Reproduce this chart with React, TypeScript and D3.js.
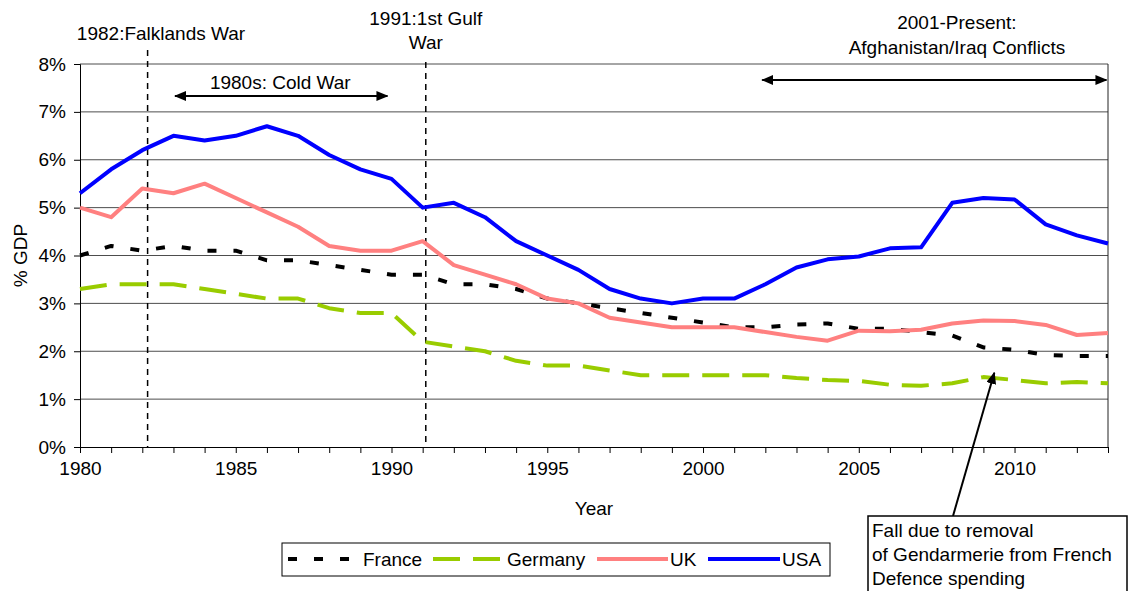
import { useEffect, useRef } from "react";
import * as d3 from "d3";

// Years on the x axis
const years = [
  1980, 1981, 1982, 1983, 1984, 1985, 1986, 1987, 1988, 1989, 1990, 1991,
  1992, 1993, 1994, 1995, 1996, 1997, 1998, 1999, 2000, 2001, 2002, 2003,
  2004, 2005, 2006, 2007, 2008, 2009, 2010, 2011, 2012, 2013,
];

// Military spending, % of GDP
const france = [
  4.0, 4.2, 4.1, 4.2, 4.1, 4.1, 3.9, 3.9, 3.8, 3.7, 3.6, 3.6, 3.4, 3.4, 3.3,
  3.1, 3.0, 2.9, 2.8, 2.7, 2.6, 2.5, 2.5, 2.56, 2.58, 2.47, 2.47, 2.4, 2.33,
  2.08, 2.03, 1.92, 1.9, 1.9,
];
const germany = [
  3.3, 3.4, 3.4, 3.4, 3.3, 3.2, 3.1, 3.1, 2.9, 2.8, 2.8, 2.2, 2.1, 2.0, 1.8,
  1.7, 1.7, 1.6, 1.5, 1.5, 1.5, 1.5, 1.5, 1.44, 1.4, 1.38, 1.3, 1.28, 1.33,
  1.46, 1.4, 1.33, 1.36, 1.33,
];
const uk = [
  5.0, 4.8, 5.4, 5.3, 5.5, 5.2, 4.9, 4.6, 4.2, 4.1, 4.1, 4.3, 3.8, 3.6, 3.4,
  3.1, 3.0, 2.7, 2.6, 2.5, 2.5, 2.5, 2.4, 2.3, 2.22, 2.43, 2.42, 2.45, 2.58,
  2.64, 2.63, 2.55, 2.34, 2.38,
];
const usa = [
  5.3, 5.8, 6.2, 6.5, 6.4, 6.5, 6.7, 6.5, 6.1, 5.8, 5.6, 5.0, 5.1, 4.8, 4.3,
  4.0, 3.7, 3.3, 3.1, 3.0, 3.1, 3.1, 3.4, 3.75, 3.92, 3.98, 4.15, 4.17, 5.1,
  5.2, 5.17, 4.65, 4.42, 4.25,
];

const yTicks = [0, 1, 2, 3, 4, 5, 6, 7, 8];
const xTickLabels = [1980, 1985, 1990, 1995, 2000, 2005, 2010];

const seriesList = [
  { name: "France", values: france, color: "#000000", dash: "9,17" },
  { name: "Germany", values: germany, color: "#99CC00", dash: "27,13" },
  { name: "UK", values: uk, color: "#FF8080", dash: null },
  { name: "USA", values: usa, color: "#0000FF", dash: null },
];

const FONT = "'Liberation Sans', Arial, sans-serif";
const FS = 19;

const App: React.FC = () => {
  const svgRef = useRef<SVGSVGElement>(null);

  useEffect(() => {
    const left = 80, right = 1108, top = 64, bottom = 447;

    const svg = d3.select(svgRef.current);
    svg.selectAll("*").remove();

    const x = d3.scaleLinear().domain([1980, 2013]).range([left, right]);
    const y = d3.scaleLinear().domain([0, 8]).range([bottom, top]);

    const label = (sel: any) =>
      sel.attr("font-family", FONT).attr("font-size", FS).attr("fill", "#000");

    // arrow head
    const defs = svg.append("defs");
    defs.append("marker")
      .attr("id", "ah")
      .attr("viewBox", "0 0 12 10")
      .attr("refX", 11).attr("refY", 5)
      .attr("markerWidth", 12).attr("markerHeight", 10)
      .attr("markerUnits", "userSpaceOnUse")
      .attr("orient", "auto-start-reverse")
      .append("path").attr("d", "M0,0L12,5L0,10Z").attr("fill", "#000");

    // grid lines
    svg.append("g").selectAll("line")
      .data(yTicks.filter((d) => d > 0)).enter()
      .append("line")
      .attr("x1", left).attr("x2", right)
      .attr("y1", (d) => y(d)).attr("y2", (d) => y(d))
      .attr("stroke", "#4d4d4d").attr("stroke-width", 1);

    // right border
    svg.append("line")
      .attr("x1", right).attr("x2", right).attr("y1", top).attr("y2", bottom)
      .attr("stroke", "#222").attr("stroke-width", 1);

    // Y axis
    const yAxis = svg.append("g")
      .attr("transform", `translate(${left},0)`)
      .call(d3.axisLeft(y).tickValues(yTicks).tickSize(6).tickFormat((d) => `${d}%`));
    yAxis.select(".domain").attr("stroke", "#000");
    label(yAxis.selectAll("text")).attr("x", -14);

    // X axis
    const xAxis = svg.append("g")
      .attr("transform", `translate(0,${bottom})`)
      .call(d3.axisBottom(x).tickValues(years).tickSize(6)
        .tickSizeOuter(0)
        .tickFormat((d) => (xTickLabels.includes(d as number) ? String(d) : "")));
    xAxis.select(".domain").attr("stroke", "#000");
    label(xAxis.selectAll("text")).attr("y", 15);

    // axis titles
    label(svg.append("text"))
      .attr("x", 594).attr("y", 515)
      .attr("text-anchor", "middle")
      .text("Year");
    label(svg.append("text"))
      .attr("transform", `translate(27,${(top + bottom) / 2}) rotate(-90)`)
      .attr("text-anchor", "middle")
      .text("% GDP");

    // event lines
    const events = [
      { year: 1982.17, y0: 50 },
      { year: 1991.1, y0: 62 },
    ];
    events.forEach((e) => {
      svg.append("line")
        .attr("x1", x(e.year)).attr("x2", x(e.year))
        .attr("y1", e.y0).attr("y2", bottom)
        .attr("stroke", "#000").attr("stroke-width", 1.5)
        .attr("stroke-dasharray", "6,5");
    });
    label(svg.append("text"))
      .attr("x", x(1982.6)).attr("y", 40)
      .attr("text-anchor", "middle")
      .text("1982:Falklands War");
    const gulf = label(svg.append("text")).attr("text-anchor", "middle");
    gulf.append("tspan").attr("x", x(1991.1)).attr("y", 25).text("1991:1st Gulf");
    gulf.append("tspan").attr("x", x(1991.1)).attr("y", 49).text("War");

    // period arrows
    svg.append("line")
      .attr("x1", x(1983.05)).attr("x2", x(1989.87))
      .attr("y1", 96).attr("y2", 96)
      .attr("stroke", "#000").attr("stroke-width", 2)
      .attr("marker-start", "url(#ah)").attr("marker-end", "url(#ah)");
    label(svg.append("text"))
      .attr("x", x(1986.43)).attr("y", 89)
      .attr("text-anchor", "middle")
      .text("1980s: Cold War");

    svg.append("line")
      .attr("x1", x(2001.9)).attr("x2", x(2012.95))
      .attr("y1", 80).attr("y2", 80)
      .attr("stroke", "#000").attr("stroke-width", 2)
      .attr("marker-start", "url(#ah)").attr("marker-end", "url(#ah)");
    const present = label(svg.append("text")).attr("text-anchor", "middle");
    present.append("tspan").attr("x", x(2008.15)).attr("y", 29).text("2001-Present:");
    present.append("tspan").attr("x", x(2008.15)).attr("y", 54).text("Afghanistan/Iraq Conflicts");

    // series
    const line = d3.line<number>()
      .x((_, i) => x(years[i]))
      .y((d) => y(d));
    seriesList.forEach((s) => {
      const p = svg.append("path")
        .datum(s.values)
        .attr("d", line)
        .attr("fill", "none")
        .attr("stroke", s.color)
        .attr("stroke-width", 4)
        .attr("stroke-linejoin", "round");
      if (s.dash) p.attr("stroke-dasharray", s.dash);
    });

    // note box + arrow
    svg.append("line")
      .attr("x1", 953).attr("y1", 516)
      .attr("x2", x(2009.35)).attr("y2", y(1.55))
      .attr("stroke", "#000").attr("stroke-width", 2)
      .attr("marker-end", "url(#ah)");
    svg.append("rect")
      .attr("x", 868).attr("y", 516).attr("width", 259).attr("height", 90)
      .attr("fill", "#fff").attr("stroke", "#000").attr("stroke-width", 1.5);
    const note = label(svg.append("text"));
    ["Fall due to removal", "of Gendarmerie from French", "Defence spending"].forEach((t, i) => {
      note.append("tspan").attr("x", 872).attr("y", 537 + i * 24).text(t);
    });

    // legend
    const lg = svg.append("g");
    lg.append("rect")
      .attr("x", 282).attr("y", 543).attr("width", 548).attr("height", 33)
      .attr("fill", "#fff").attr("stroke", "#000").attr("stroke-width", 1);
    const legendPos = [
      { x0: 288, x1: 352, tx: 363 },
      { x0: 433, x1: 505, tx: 507 },
      { x0: 597, x1: 668, tx: 670 },
      { x0: 708, x1: 780, tx: 782 },
    ];
    seriesList.forEach((s, i) => {
      const pos = legendPos[i];
      const l = lg.append("line")
        .attr("x1", pos.x0).attr("x2", pos.x1)
        .attr("y1", 559).attr("y2", 559)
        .attr("stroke", s.color).attr("stroke-width", 4);
      if (s.dash) l.attr("stroke-dasharray", s.dash);
      label(lg.append("text"))
        .attr("x", pos.tx).attr("y", 566)
        .text(s.name);
    });
  }, []);

  return (
    <svg
      ref={svgRef}
      width={1144}
      height={591}
      style={{ position: "absolute", left: 0, top: 0, background: "#fff" }}
    ></svg>
  );
};

export default App;
